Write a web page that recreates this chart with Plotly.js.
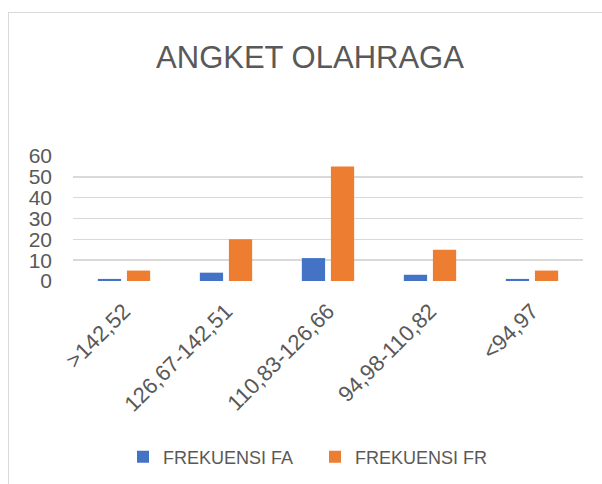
<!DOCTYPE html>
<html>
<head>
<meta charset="utf-8">
<script src="https://cdn.plot.ly/plotly-3.0.1.min.js"></script>
<style>
html,body{margin:0;padding:0;background:#fff;}
#wrap{position:relative;width:602px;height:484px;}
#frame{position:absolute;left:8px;top:12px;right:0;bottom:0;border-left:1.5px solid #d9d9d9;border-top:1.5px solid #d9d9d9;}
#chart{position:absolute;left:0;top:0;width:602px;height:484px;}
</style>
</head>
<body>
<div id="wrap"><div id="frame"></div><div id="chart"></div></div>
<script>
const categories = [">142,52", "126,67-142,51", "110,83-126,66", "94,98-110,82", "<94,97"];
const frekuensiFA = [1, 4, 11, 3, 1];
const frekuensiFR = [5, 20, 55, 15, 5];
const seriesNames = ["FREKUENSI FA", "FREKUENSI FR"];
const yTicks = [0, 10, 20, 30, 40, 50, 60];

const txt = "#595959";
const fam = "Liberation Sans, Arial, sans-serif";
const traces = [
  {type: "bar", name: seriesNames[0], x: categories, y: frekuensiFA, marker: {color: "#4472C4"}},
  {type: "bar", name: seriesNames[1], x: categories, y: frekuensiFR, marker: {color: "#ED7D31"}}
];
const L = 73, R = 19, T = 156, B = 202;
const pw = 602 - L - R, ph = 484 - T - B;
const layout = {
  width: 602, height: 484,
  paper_bgcolor: "rgba(0,0,0,0)", plot_bgcolor: "rgba(0,0,0,0)",
  margin: {l: L, r: R, t: T, b: B},
  barmode: "group", bargap: 0.43, bargroupgap: 0.2,
  title: {text: "ANGKET OLAHRAGA", x: 310/602, xanchor: "center", xref: "container",
          y: 1 - 57/484, yanchor: "middle", yref: "container",
          font: {family: fam, size: 31, color: txt}},
  xaxis: {type: "category", tickangle: -45, showgrid: false, zeroline: false, showline: false, ticks: "",
          ticklabelstandoff: 12,
          tickfont: {family: fam, size: 22, color: txt}, automargin: false},
  yaxis: {range: [0, 60], tickvals: yTicks, showgrid: true, gridcolor: "#d9d9d9", gridwidth: 1.5,
          zeroline: false, showline: false, ticks: "", ticklabelstandoff: 20,
          tickfont: {family: fam, size: 21, color: txt}, automargin: false},
  showlegend: true,
  legend: {orientation: "h", x: (123 - L)/pw, xanchor: "left", y: (282-457)/ph, yanchor: "middle",
           entrywidth: 147, entrywidthmode: "pixels",
           font: {family: fam, size: 18, color: txt}, traceorder: "normal"},
  font: {family: fam, color: txt}
};
Plotly.newPlot("chart", traces, layout, {displayModeBar: false, staticPlot: true});
</script>
</body>
</html>
